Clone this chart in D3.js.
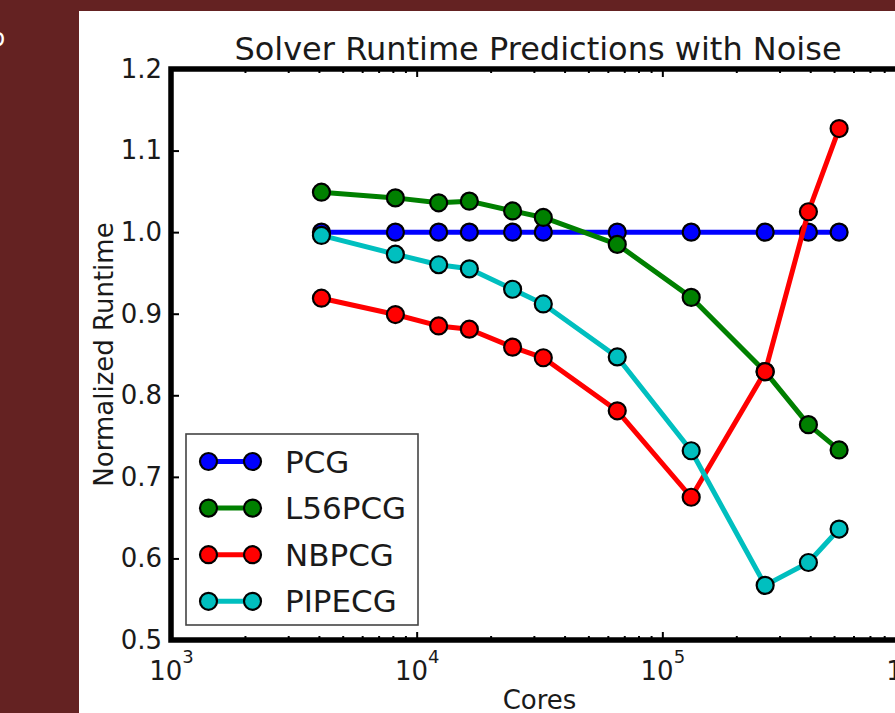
<!DOCTYPE html>
<html>
<head>
<meta charset="utf-8">
<script src="https://cdn.jsdelivr.net/npm/d3@7"></script>
<style>
  html, body { margin: 0; padding: 0; background: #642222; overflow: hidden; }
  svg { display: block; }
  text { font-family: "DejaVu Sans", sans-serif; fill: #1a1a1a; }
</style>
</head>
<body>
<svg id="chart" width="895" height="713"></svg>
<script>
// Core counts (x) and normalized runtimes for each solver
const cores = [4096, 8192, 12288, 16384, 24576, 32768, 65536, 131072, 262144, 393216, 524288];
const pcg    = [1.000, 1.000, 1.000, 1.000, 1.000, 1.000, 1.000, 1.000, 1.000, 1.000, 1.000];
const l56pcg = [1.049, 1.042, 1.036, 1.038, 1.026, 1.018, 0.985, 0.920, 0.829, 0.764, 0.733];
const nbpcg  = [0.919, 0.899, 0.885, 0.881, 0.859, 0.846, 0.781, 0.675, 0.829, 1.025, 1.127];
const pipecg = [0.996, 0.973, 0.960, 0.955, 0.930, 0.912, 0.847, 0.732, 0.567, 0.595, 0.636];

const seriesNames  = ["PCG", "L56PCG", "NBPCG", "PIPECG"];
const seriesValues = [pcg, l56pcg, nbpcg, pipecg];
const seriesColors = ["#0000ff", "#008000", "#ff0000", "#00bfbf"];

const yTicks = [0.5, 0.6, 0.7, 0.8, 0.9, 1.0, 1.1, 1.2];
const xMajorExponents = [3, 4, 5, 6];

const titleText = "Solver Runtime Predictions with Noise";
const xLabel = "Cores";
const yLabel = "Normalized Runtime";

const svg = d3.select("#chart");

// slide background and white panel
svg.append("rect").attr("width", 895).attr("height", 713).attr("fill", "#642222");
svg.append("text").attr("x", -9.5).attr("y", 46).style("font-size", "24px")
  .style("fill", "#ffffff").text("o");
svg.append("rect").attr("x", 79).attr("y", 11).attr("width", 816).attr("height", 702).attr("fill", "#ffffff");

const plot = { left: 171, right: 908, top: 69, bottom: 640 };

const x = d3.scaleLog().domain([1e3, 1e6]).range([plot.left, plot.right]);
const y = d3.scaleLinear().domain([0.5, 1.2]).range([plot.bottom, plot.top]);

// minor ticks on the log axis
const minorTicks = [];
for (let e = 3; e < 6; e++) for (let k = 2; k <= 9; k++) minorTicks.push(k * Math.pow(10, e));
const majorTicks = xMajorExponents.map(e => Math.pow(10, e));

const axisStyle = g => {
  g.select(".domain").remove();
  g.selectAll(".tick line").attr("stroke", "#000").attr("stroke-width", 2);
};

// bottom/top x ticks pointing inward
svg.append("g").attr("transform", `translate(0,${plot.bottom})`)
  .call(d3.axisBottom(x).tickValues(minorTicks).tickSize(-4).tickFormat(""))
  .call(axisStyle);
svg.append("g").attr("transform", `translate(0,${plot.top})`)
  .call(d3.axisTop(x).tickValues(minorTicks).tickSize(-4).tickFormat(""))
  .call(axisStyle);
svg.append("g").attr("transform", `translate(0,${plot.top})`)
  .call(d3.axisTop(x).tickValues(majorTicks).tickSize(-8).tickFormat(""))
  .call(axisStyle);

const xAxis = svg.append("g").attr("transform", `translate(0,${plot.bottom})`)
  .call(d3.axisBottom(x).tickValues(majorTicks).tickSize(-8).tickFormat(""))
  .call(axisStyle);
// power-of-ten labels: "10" with a raised exponent
xAxis.selectAll(".tick").each(function (d) {
  const t = d3.select(this).append("text")
    .attr("y", 40).attr("text-anchor", "middle").style("font-size", "26px");
  t.append("tspan").text("10");
  t.append("tspan").attr("dy", -17).style("font-size", "18px").text(Math.round(Math.log10(d)));
});

// left y ticks pointing inward
const yAxis = svg.append("g").attr("transform", `translate(${plot.left},0)`)
  .call(d3.axisLeft(y).tickValues(yTicks).tickSize(-8).tickPadding(9).tickFormat(d3.format(".1f")))
  .call(axisStyle);
yAxis.selectAll(".tick text").style("font-size", "26px").attr("fill", "#1a1a1a")
  .style("font-family", "DejaVu Sans");

// series lines and markers, clipped to the axes
svg.append("clipPath").attr("id", "plotClip").append("rect")
  .attr("x", plot.left).attr("y", plot.top)
  .attr("width", plot.right - plot.left).attr("height", plot.bottom - plot.top);

const layer = svg.append("g").attr("clip-path", "url(#plotClip)");
const line = d3.line().x(d => x(d[0])).y(d => y(d[1]));

seriesValues.forEach((vals, i) => {
  const pts = cores.map((c, j) => [c, vals[j]]);
  const g = layer.append("g");
  g.append("path").datum(pts).attr("d", line)
    .attr("fill", "none").attr("stroke", seriesColors[i]).attr("stroke-width", 5)
    .attr("stroke-linejoin", "round");
  g.selectAll("circle").data(pts).join("circle")
    .attr("cx", d => x(d[0])).attr("cy", d => y(d[1])).attr("r", 8.5)
    .attr("fill", seriesColors[i]).attr("stroke", "#000").attr("stroke-width", 2.2);
});

// axes frame
svg.append("rect").attr("x", plot.left).attr("y", plot.top)
  .attr("width", plot.right - plot.left).attr("height", plot.bottom - plot.top)
  .attr("fill", "none").attr("stroke", "#000").attr("stroke-width", 5.5);

// title and axis labels
svg.append("text").attr("x", 538).attr("y", 60)
  .attr("text-anchor", "middle").style("font-size", "32px").text(titleText);
svg.append("text").attr("x", (plot.left + plot.right) / 2).attr("y", 709)
  .attr("text-anchor", "middle").style("font-size", "26px").text(xLabel);
svg.append("text").attr("transform", `translate(113,${(plot.top + plot.bottom) / 2}) rotate(-90)`)
  .attr("text-anchor", "middle").style("font-size", "26px").text(yLabel);

// legend
const legend = svg.append("g");
legend.append("rect").attr("x", 186).attr("y", 434).attr("width", 232).attr("height", 191)
  .attr("fill", "#ffffff").attr("stroke", "#444").attr("stroke-width", 1.6);
seriesNames.forEach((name, i) => {
  const cy = 461.5 + i * 46.6;
  legend.append("line").attr("x1", 208.5).attr("x2", 252.5).attr("y1", cy).attr("y2", cy)
    .attr("stroke", seriesColors[i]).attr("stroke-width", 5);
  [208.5, 252.5].forEach(cx => legend.append("circle").attr("cx", cx).attr("cy", cy).attr("r", 8.5)
    .attr("fill", seriesColors[i]).attr("stroke", "#000").attr("stroke-width", 2.2));
  legend.append("text").attr("x", 285).attr("y", cy + 11).style("font-size", "31px").text(name);
});
</script>
</body>
</html>
